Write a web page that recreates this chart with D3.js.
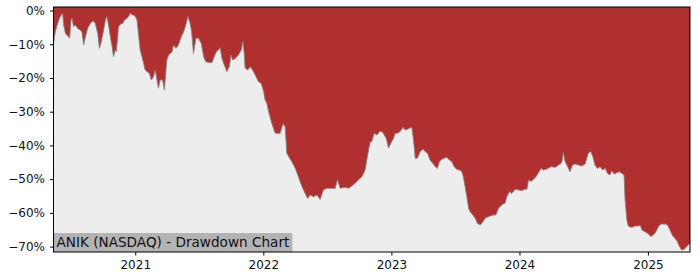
<!DOCTYPE html>
<html>
<head>
<meta charset="utf-8">
<script src="https://cdn.jsdelivr.net/npm/d3@7"></script>
<style>
body { margin: 0; background: #fff; }
text { font-family: "DejaVu Sans", sans-serif; }
</style>
</head>
<body>
<svg id="chart" width="700" height="280"></svg>
<script>
const title = "ANIK (NASDAQ) - Drawdown Chart";

// drawdown from running peak
const dates = [
  "2020-05-13","2020-05-18","2020-05-25","2020-05-30","2020-06-04","2020-06-08","2020-06-11","2020-06-16","2020-06-20","2020-06-25",
  "2020-06-28","2020-07-02","2020-07-05","2020-07-09","2020-07-14","2020-07-21","2020-07-28","2020-08-02","2020-08-07","2020-08-12",
  "2020-08-18","2020-08-26","2020-09-03","2020-09-09","2020-09-16","2020-09-21","2020-09-25","2020-10-01","2020-10-08","2020-10-12",
  "2020-10-17","2020-10-22","2020-10-27","2020-10-31","2020-11-05","2020-11-08","2020-11-12","2020-11-14","2020-11-21","2020-11-27",
  "2020-12-01","2020-12-08","2020-12-13","2020-12-18","2020-12-23","2020-12-27","2021-01-01","2021-01-06","2021-01-10","2021-01-15",
  "2021-01-20","2021-01-25","2021-01-29","2021-02-03","2021-02-10","2021-02-16","2021-02-22","2021-02-27",
  "2021-03-08","2021-03-13","2021-03-20","2021-03-25","2021-04-01","2021-04-06","2021-04-16","2021-04-20","2021-04-27","2021-05-04",
  "2021-05-12","2021-05-19","2021-05-25","2021-05-31","2021-06-05","2021-06-10","2021-06-16","2021-06-23","2021-06-30","2021-07-08",
  "2021-07-15","2021-07-21","2021-07-29","2021-08-08","2021-08-12","2021-08-20","2021-08-26","2021-08-31","2021-09-05","2021-09-12",
  "2021-09-19","2021-09-26","2021-10-01","2021-10-06","2021-10-13","2021-10-22","2021-10-30","2021-11-04","2021-11-08","2021-11-10",
  "2021-11-18","2021-11-25","2021-12-01","2021-12-09","2021-12-18","2021-12-26","2022-01-02","2022-01-06","2022-01-11","2022-01-16",
  "2022-01-25","2022-02-04","2022-02-18","2022-02-26","2022-03-04","2022-03-09","2022-03-17","2022-03-23","2022-04-02","2022-04-11",
  "2022-04-21","2022-04-30","2022-05-07","2022-05-15","2022-05-24","2022-06-03","2022-06-12","2022-06-21","2022-07-01","2022-07-15",
  "2022-07-25","2022-07-31","2022-08-08","2022-08-22","2022-09-01","2022-09-10","2022-09-20","2022-09-29","2022-10-09","2022-10-18",
  "2022-10-23","2022-10-28","2022-11-02","2022-11-06","2022-11-13","2022-11-21","2022-11-28","2022-12-05","2022-12-09","2022-12-17",
  "2022-12-24","2022-12-30","2023-01-07","2023-01-12","2023-01-18","2023-01-26","2023-02-03","2023-02-09","2023-02-16","2023-02-21",
  "2023-02-28","2023-03-05","2023-03-10","2023-03-16","2023-03-24","2023-04-01","2023-04-07","2023-04-14","2023-04-21","2023-04-29",
  "2023-05-06","2023-05-12","2023-05-18","2023-05-25","2023-05-31","2023-06-08","2023-06-15","2023-06-22","2023-06-29","2023-07-06",
  "2023-07-14","2023-07-21","2023-07-25","2023-07-30","2023-08-04","2023-08-09","2023-08-13","2023-08-21","2023-08-28","2023-09-03",
  "2023-09-11","2023-09-19","2023-09-25","2023-10-05","2023-10-19","2023-10-26","2023-11-02","2023-11-12","2023-11-21","2023-11-26",
  "2023-12-03","2023-12-10","2023-12-20","2023-12-29","2024-01-08","2024-01-15","2024-01-22","2024-01-27","2024-02-03","2024-02-10",
  "2024-02-17","2024-02-24","2024-03-03","2024-03-09","2024-03-19","2024-03-31","2024-04-12","2024-04-21","2024-04-29","2024-05-02",
  "2024-05-05","2024-05-10","2024-05-18","2024-05-24","2024-05-31","2024-06-08","2024-06-17","2024-06-27","2024-07-06","2024-07-15",
  "2024-07-22","2024-07-28","2024-08-03","2024-08-10","2024-08-18","2024-08-25","2024-09-01","2024-09-08","2024-09-15","2024-09-20",
  "2024-09-27","2024-10-04","2024-10-12","2024-10-19","2024-10-25","2024-10-28","2024-11-02","2024-11-06","2024-11-16","2024-11-26",
  "2024-12-05","2024-12-10","2024-12-15","2024-12-24","2025-01-02","2025-01-09","2025-01-17","2025-01-24","2025-01-31","2025-02-07",
  "2025-02-19","2025-02-26","2025-03-05","2025-03-13","2025-03-19","2025-03-26","2025-04-01","2025-04-07","2025-04-14","2025-04-20",
  "2025-04-26","2025-05-01"
];
const drawdown = [
  -9.7,-6.3,-3.8,-2.3,-1.3,-0.8,-4.3,-6.8,-7.3,-7.8,
  -8.2,-2.8,-2.3,-4.8,-4.3,-5.3,-5.8,-6.3,-10.2,-7.8,
  -5.3,-3.8,-3.0,-3.8,-6.8,-11.2,-9.7,-6.8,-2.8,-1.8,
  -4.3,-7.8,-10.7,-13.7,-11.7,-12.2,-7.8,-4.8,-4.0,-3.8,
  -2.8,-2.3,-1.8,-0.8,-1.3,-1.3,-1.8,-2.8,-6.8,-11.7,
  -13.7,-15.7,-17.6,-18.1,-18.6,-20.6,-19.6,-17.6,
  -23.0,-20.6,-20.6,-23.6,-14.7,-13.2,-12.2,-10.2,-11.2,-10.2,
  -7.8,-6.3,-4.3,-1.8,-3.3,-5.8,-12.7,-8.2,-8.2,-9.7,
  -13.7,-15.2,-15.4,-15.4,-14.2,-12.2,-11.7,-11.0,-14.2,-16.2,
  -18.1,-16.7,-13.2,-14.7,-14.2,-13.2,-11.7,-9.2,-13.2,-17.1,
  -17.6,-16.7,-17.6,-19.1,-21.1,-21.6,-24.1,-26.5,-27.5,-30.0,
  -33.4,-36.4,-36.4,-33.6,-34.4,-42.3,-43.8,-44.8,-46.8,-49.3,
  -52.2,-54.2,-55.7,-54.7,-55.2,-54.7,-56.0,-53.2,-52.7,-52.7,
  -52.7,-50.2,-52.7,-52.4,-52.7,-52.0,-51.2,-50.2,-49.3,-47.3,
  -44.3,-41.3,-38.9,-38.9,-36.4,-36.9,-35.9,-35.9,-36.4,-37.9,
  -40.8,-39.4,-37.9,-36.4,-36.4,-35.9,-34.6,-35.4,-35.2,-34.9,
  -34.6,-38.4,-43.8,-43.8,-41.8,-41.1,-41.8,-42.3,-44.3,-45.3,
  -46.3,-46.8,-44.8,-44.1,-43.8,-43.5,-44.3,-44.8,-46.3,-47.1,
  -47.3,-47.8,-49.3,-52.2,-55.2,-58.6,-59.6,-60.6,-61.6,-63.1,
  -63.6,-62.6,-61.6,-61.1,-60.6,-60.6,-58.6,-57.6,-57.1,-55.2,
  -53.7,-54.2,-53.0,-53.2,-53.4,-53.0,-53.0,-50.2,-50.7,-50.0,
  -49.3,-48.1,-46.8,-47.3,-47.0,-46.3,-46.5,-45.8,-45.3,-44.3,
  -42.1,-44.8,-46.5,-47.8,-45.8,-45.5,-45.8,-46.1,-45.5,-42.3,
  -41.8,-43.3,-45.8,-46.8,-46.3,-47.3,-46.8,-48.3,-48.8,-47.5,
  -48.5,-48.1,-47.8,-48.3,-48.8,-56.2,-62.1,-63.9,-64.3,-63.9,
  -63.9,-63.6,-65.1,-65.6,-66.2,-67.0,-66.5,-65.6,-64.1,-63.3,
  -63.3,-63.6,-65.1,-66.9,-67.5,-68.5,-70.0,-71.0,-70.8,-70.2,
  -69.5,-69.0
];

const yTicks = [0, -10, -20, -30, -40, -50, -60, -70];
const xTicks = ["2021-01-01", "2022-01-01", "2023-01-01", "2024-01-01", "2025-01-01"];

const plotLeft = 53.5, plotRight = 690, plotTop = 7, plotBottom = 252;
const parse = d3.timeParse("%Y-%m-%d");
const data = dates.map((d, i) => ({ date: parse(d), value: drawdown[i] }));

const svg = d3.select("#chart");

const xScale = d3.scaleTime()
  .domain(d3.extent(data, d => d.date))
  .range([plotLeft, plotRight]);
const yScale = d3.scaleLinear()
  .domain([1.04, -71.6])
  .range([plotTop, plotBottom]);

// red background = below the peak
svg.append("rect")
  .attr("x", plotLeft).attr("y", plotTop)
  .attr("width", plotRight - plotLeft).attr("height", plotBottom - plotTop)
  .attr("fill", "#b03030");

// grey area below the drawdown line
svg.append("path")
  .datum(data)
  .attr("fill", "#ededed")
  .attr("d", d3.area()
    .x(d => xScale(d.date))
    .y0(plotBottom)
    .y1(d => yScale(d.value)));

svg.append("path")
  .datum(data)
  .attr("fill", "none")
  .attr("stroke", "#7f8585")
  .attr("stroke-width", 0.9)
  .attr("d", d3.line()
    .x(d => xScale(d.date))
    .y(d => yScale(d.value)));

// title box
const label = svg.append("g");
const labelText = label.append("text")
  .attr("x", plotLeft + 3)
  .attr("y", plotBottom - 5)
  .attr("font-size", "13.6px")
  .attr("fill", "#111")
  .text(title);
const bb = labelText.node().getBBox();
label.insert("rect", "text")
  .attr("x", plotLeft)
  .attr("y", plotBottom - 19)
  .attr("width", bb.width + 6)
  .attr("height", 19)
  .attr("fill", "#b3b3b3");

// axes
svg.append("g")
  .attr("transform", `translate(0,${plotBottom})`)
  .call(d3.axisBottom(xScale)
    .tickValues(xTicks.map(parse))
    .tickFormat(d3.timeFormat("%Y"))
    .tickSize(3.5)
    .tickPadding(5))
  .call(g => g.select(".domain").remove())
  .call(g => g.selectAll("text").attr("font-size", "12px").attr("font-family", "DejaVu Sans").attr("fill", "#111"));

svg.append("g")
  .attr("transform", `translate(${plotLeft},0)`)
  .call(d3.axisLeft(yScale)
    .tickValues(yTicks)
    .tickFormat(d => (d < 0 ? "\u2212" + Math.abs(d) : d) + "%")
    .tickSize(3.5)
    .tickPadding(5))
  .call(g => g.select(".domain").remove())
  .call(g => g.selectAll("text").attr("font-size", "12px").attr("font-family", "DejaVu Sans").attr("fill", "#111"));

// frame
svg.append("rect")
  .attr("x", plotLeft).attr("y", plotTop)
  .attr("width", plotRight - plotLeft).attr("height", plotBottom - plotTop)
  .attr("fill", "none")
  .attr("stroke", "#000")
  .attr("stroke-width", 1);
</script>
</body>
</html>
